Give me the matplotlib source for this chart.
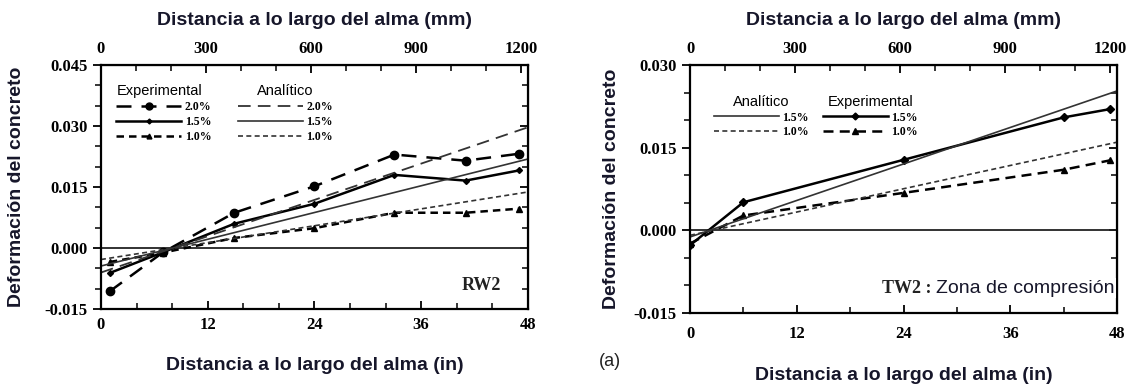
import matplotlib
matplotlib.use("Agg")
import matplotlib.pyplot as plt
from matplotlib.ticker import MultipleLocator, FixedLocator, FormatStrFormatter
from matplotlib.lines import Line2D

# RW2 (left) - experimental, distance in inches
rw2_x = [1, 7, 15, 24, 33, 41, 47]
rw2_exp20 = [-0.0106, -0.0010, 0.0087, 0.0152, 0.0230, 0.0215, 0.0232]
rw2_exp15 = [-0.0061, -0.0010, 0.0060, 0.0109, 0.0180, 0.0166, 0.0191]
rw2_exp10 = [-0.0034, -0.0011, 0.0025, 0.0049, 0.0087, 0.0087, 0.0097]
# RW2 analytic (straight lines)
rw2_ax = [0, 48]
rw2_an20 = [-0.0060, 0.0297]
rw2_an15 = [-0.0044, 0.0219]
rw2_an10 = [-0.0028, 0.0138]

# TW2 (right)
tw2_x = [0, 6, 24, 42, 47.2]
tw2_exp15 = [-0.0027, 0.0051, 0.0128, 0.0205, 0.0220]
tw2_exp10 = [-0.0024, 0.0027, 0.0068, 0.0110, 0.0127]
tw2_ax = [0, 48]
tw2_an15 = [-0.0012, 0.0253]
tw2_an10 = [-0.0009, 0.0160]

pct = ["2.0%", "1.5%", "1.0%"]
mm_ticks = [0, 300, 600, 900, 1200]
mm_minor = list(range(0, 1201, 100))

TXT = "#16162a"
SANS = "Liberation Sans"
SERIF = "Liberation Serif"

fig = plt.figure(figsize=(11.34, 3.85), dpi=100)

long_dash = (0, (7, 4))
short_dash = (0, (3, 2))


def bold_serif(labels, size=12):
    for lab in labels:
        lab.set_fontfamily(SERIF)
        lab.set_fontweight("bold")
        lab.set_fontsize(size)


def setup(ax, ylim, ymaj, xminor, ylabpad, xlabpad, xpad):
    ax.set_xlim(0, 48)
    ax.set_ylim(*ylim)
    ax.xaxis.set_major_locator(MultipleLocator(12))
    ax.xaxis.set_minor_locator(MultipleLocator(xminor))
    ax.yaxis.set_major_locator(MultipleLocator(ymaj))
    ax.yaxis.set_minor_locator(MultipleLocator(0.005))
    ax.yaxis.set_major_formatter(FormatStrFormatter("%.3f"))
    ax.tick_params(axis="x", which="both", direction="in", top=False, pad=xpad)
    ax.tick_params(axis="y", which="both", direction="out", right=False)
    ax.tick_params(which="major", length=6, width=1.3)
    ax.tick_params(which="minor", length=4, width=1.1)
    for s in ax.spines.values():
        s.set_linewidth(1.6)
    ax.axhline(0, color="#222222", lw=1.3, zorder=1)
    bold_serif(ax.get_xticklabels() + ax.get_yticklabels())

    # right side ticks pointing inward
    ry = ax.secondary_yaxis("right")
    ry.yaxis.set_major_locator(MultipleLocator(ymaj))
    ry.yaxis.set_minor_locator(MultipleLocator(0.005))
    ry.tick_params(which="both", direction="in", labelright=False)
    ry.tick_params(which="major", length=6, width=1.3)
    ry.tick_params(which="minor", length=4, width=1.1)

    sec = ax.secondary_xaxis("top", functions=(lambda v: v * 25.4, lambda v: v / 25.4))
    sec.xaxis.set_major_locator(FixedLocator(mm_ticks))
    sec.xaxis.set_minor_locator(FixedLocator(mm_minor))
    sec.tick_params(which="both", direction="in")
    sec.tick_params(which="major", length=6, width=1.3, pad=6)
    sec.tick_params(which="minor", length=4, width=1.1)
    bold_serif(sec.get_xticklabels())
    sec.set_xlabel("Distancia a lo largo del alma (mm)", fontfamily=SANS,
                   fontweight="bold", fontsize=14, color=TXT, labelpad=11)
    ax.set_xlabel("Distancia a lo largo del alma (in)", fontfamily=SANS,
                  fontweight="bold", fontsize=14, color=TXT, labelpad=xlabpad)
    ax.set_ylabel("Deformación del concreto", fontfamily=SANS,
                  fontweight="bold", fontsize=14, color=TXT, labelpad=ylabpad)
    return sec


leg_kw = dict(frameon=False, handlelength=5.5, handletextpad=0.3, labelspacing=0.25,
              borderaxespad=0, prop={"family": SERIF, "weight": "bold", "size": 8.5},
              title_fontproperties={"family": SANS, "size": 10.5})

# ---------- left panel ----------
ax1 = fig.add_axes([0.089, 0.197, 0.3765, 0.634])
setup(ax1, (-0.015, 0.045), 0.015, 4, ylabpad=14, xlabpad=17, xpad=6)

ax1.plot(rw2_x, rw2_exp20, color="k", lw=1.8, ls=(0, (6, 4)), marker="o", ms=6)
ax1.plot(rw2_x, rw2_exp15, color="k", lw=1.8, ls="-", marker="D", ms=3)
ax1.plot(rw2_x, rw2_exp10, color="k", lw=1.8, ls=short_dash, marker="^", ms=4)
ax1.plot(rw2_ax, rw2_an20, color="#333333", lw=1.3, ls=long_dash)
ax1.plot(rw2_ax, rw2_an15, color="#333333", lw=1.2, ls="-")
ax1.plot(rw2_ax, rw2_an10, color="#333333", lw=1.2, ls=short_dash)

ax1.text(0.89, 0.095, "RW2", transform=ax1.transAxes, fontfamily=SERIF,
         fontweight="bold", fontsize=13, color="#222222", ha="center", va="center")

h_exp = [Line2D([], [], color="k", lw=1.8, ls=(0, (6, 4)), marker="o", ms=5),
         Line2D([], [], color="k", lw=1.8, ls="-", marker="D", ms=2.5),
         Line2D([], [], color="k", lw=1.8, ls=short_dash, marker="^", ms=3.5)]
h_an = [Line2D([], [], color="#333333", lw=1.3, ls=long_dash),
        Line2D([], [], color="#333333", lw=1.2, ls="-"),
        Line2D([], [], color="#333333", lw=1.2, ls=short_dash)]
l1 = ax1.legend(h_exp, pct, title="Experimental", loc="upper left",
                bbox_to_anchor=(0.025, 0.94), **leg_kw)
l1._legend_box.align = "left"
ax1.add_artist(l1)
l2 = ax1.legend(h_an, pct, title="Analítico", loc="upper left",
                bbox_to_anchor=(0.31, 0.94), **leg_kw)

# ---------- right panel ----------
ax2 = fig.add_axes([0.6085, 0.187, 0.3765, 0.644])
setup(ax2, (-0.015, 0.030), 0.015, 6, ylabpad=10, xlabpad=18, xpad=9)

ax2.plot(tw2_x, tw2_exp15, color="k", lw=1.8, ls="-", marker="D", ms=4)
ax2.plot(tw2_x, tw2_exp10, color="k", lw=1.8, ls=(0, (4, 2.5)), marker="^", ms=4.5)
ax2.plot(tw2_ax, tw2_an15, color="#333333", lw=1.2, ls="-")
ax2.plot(tw2_ax, tw2_an10, color="#333333", lw=1.2, ls=short_dash)

t = ax2.text(0.995, 0.10, "Zona de compresión", transform=ax2.transAxes,
             fontfamily=SANS, fontsize=14, color=TXT, ha="right", va="center",
             bbox=dict(facecolor="white", edgecolor="none", pad=1), zorder=5)
ax2.annotate("TW2 : ", xycoords=t, xy=(0, 0.5), ha="right", va="center",
             fontfamily=SERIF, fontweight="bold", fontsize=13, color="#222222")

h_an2 = [Line2D([], [], color="#333333", lw=1.2, ls="-"),
         Line2D([], [], color="#333333", lw=1.2, ls=short_dash)]
h_exp2 = [Line2D([], [], color="k", lw=1.8, ls="-", marker="D", ms=3.5),
          Line2D([], [], color="k", lw=1.8, ls=(0, (4, 2.5)), marker="^", ms=4)]
l3 = ax2.legend(h_an2, pct[1:], title="Analítico", loc="upper left",
                bbox_to_anchor=(0.045, 0.90), **leg_kw)
ax2.add_artist(l3)
l4 = ax2.legend(h_exp2, pct[1:], title="Experimental", loc="upper left",
                bbox_to_anchor=(0.30, 0.90), **leg_kw)

fig.text(0.528, 0.062, "(a)", fontfamily=SANS, fontsize=13, color="#222222",
         va="center")

fig.savefig("out.png", dpi=100)
